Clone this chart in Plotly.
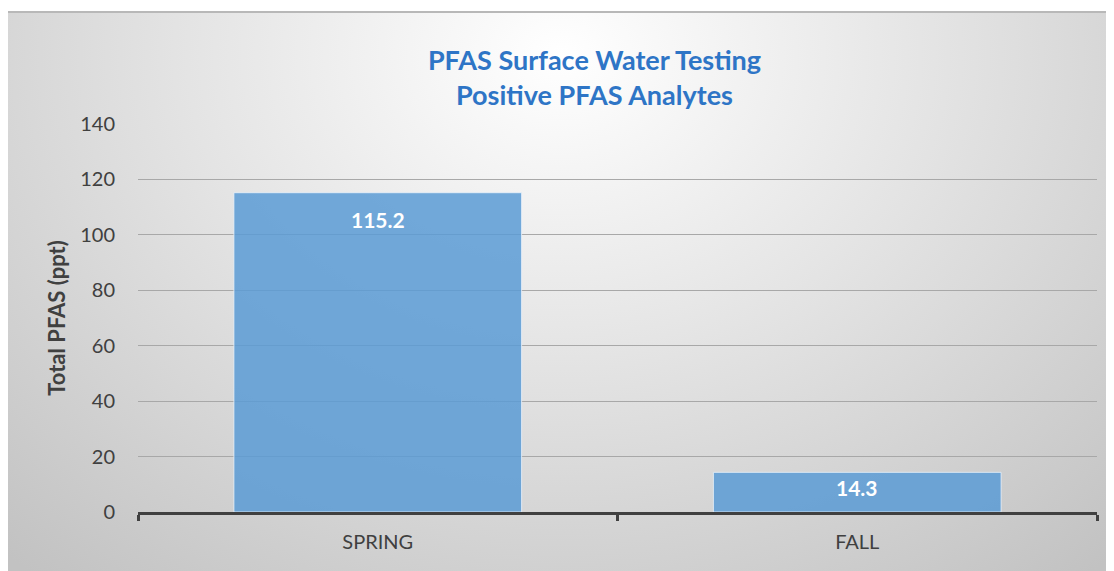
import plotly.graph_objects as go
import urllib.parse

categories = ["SPRING", "FALL"]
values = [115.2, 14.3]
value_labels = ["115.2", "14.3"]
label_offsets = [-27, -15]

W, H = 1106, 563
L, R, T, B = 130, 17, 116, 59
pw, ph = W - L - R, H - T - B

svg = (
    "<svg xmlns='http://www.w3.org/2000/svg' width='1106' height='560' preserveAspectRatio='none' viewBox='0 0 1106 560'>"
    "<defs><radialGradient id='g' cx='0.5' cy='0.08' r='0.75' gradientTransform='translate(0.5 0.08) scale(1 1.6) translate(-0.5 -0.08)'>"
    "<stop offset='0' stop-color='#ffffff'/><stop offset='0.45' stop-color='#e4e4e4'/><stop offset='1' stop-color='#c2c2c2'/>"
    "</radialGradient></defs>"
    "<rect width='1106' height='560' fill='url(#g)'/>"
    "<rect width='1106' height='2' fill='#b8b8b8'/>"
    "</svg>"
)
src = "data:image/svg+xml;charset=utf-8," + urllib.parse.quote(svg)

fig = go.Figure()
fig.add_trace(go.Bar(
    x=categories, y=values,
    marker=dict(color="rgba(91,155,213,0.85)", line=dict(color="rgba(235,242,250,0.8)", width=1)),
    hoverinfo="skip",
))

for c, v, t, dy in zip(categories, values, value_labels, label_offsets):
    fig.add_annotation(x=c, y=v, text=t, showarrow=False, yshift=dy,
                       font=dict(family="Lato, Open Sans, sans-serif", size=21, color="white", weight="bold"))

fig.add_layout_image(dict(
    source=src, xref="paper", yref="paper",
    x=(0 - L) / pw, y=(H - B - 3) / ph,
    sizex=W / pw, sizey=(H - 3) / ph,
    xanchor="left", yanchor="top", sizing="stretch", layer="below",
))

fig.update_layout(
    width=W, height=H,
    margin=dict(l=L, r=R, t=T, b=B),
    paper_bgcolor="white", plot_bgcolor="rgba(0,0,0,0)",
    bargap=0.4,
    showlegend=False,
    title=dict(
        text="PFAS Surface Water Testing<br>Positive PFAS Analytes",
        x=586.5 / W, xanchor="center", xref="container",
        y=1 - 62 / H, yanchor="top",
        font=dict(family="Lato, Open Sans, sans-serif", size=27, color="#2E75C6", weight="bold"),
    ),
    font=dict(family="Lato, Open Sans, sans-serif", color="#404040"),
    xaxis=dict(
        showgrid=False, showline=True, linecolor="#404040", linewidth=3,
        ticks="outside", tickson="boundaries", ticklen=6, tickwidth=3, tickcolor="#404040",
        tickfont=dict(size=20, color="#404040"),
        ticklabelstandoff=10,
    ),
    yaxis=dict(
        range=[0, 140], dtick=20, showgrid=True, gridcolor="#a8a8a8", gridwidth=1,
        zeroline=False, showline=False,
        tickfont=dict(size=20, color="#404040"),
        ticklabelstandoff=22,
        title=dict(text="<b>Total PFAS (ppt)</b>", font=dict(size=22, color="#404040"), standoff=8),
    ),
)

fig.write_html("out.html")
